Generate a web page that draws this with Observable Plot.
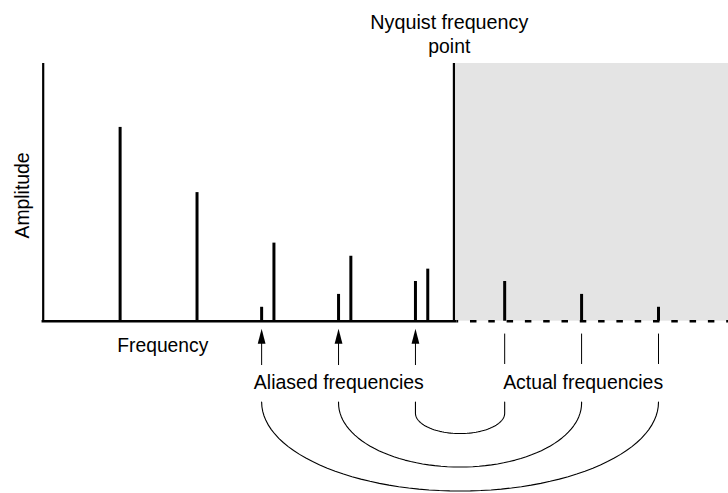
<!DOCTYPE html>
<html><head><meta charset="utf-8">
<script src="https://cdn.jsdelivr.net/npm/d3@7"></script>
<script src="https://cdn.jsdelivr.net/npm/@observablehq/plot@0.6"></script>
<style>html,body{margin:0;padding:0;background:#fff;} #chart svg{display:block;}</style>
</head><body><div id="chart"></div>
<script>
// ---- data (frequency in harmonic units, amplitude in % of axis height) ----
const harmonicFreqs = [1, 2, 3, 4, 5, 6, 7, 8];
const harmonicAmps  = [75.2, 49.9, 30.3, 25.2, 20.2, 15.4, 10.4, 5.4];
const aliasedFreqs  = [2.84, 3.84, 4.84];
const aliasedAmps   = [5.4, 10.4, 15.4];
const actualFreqs   = [8, 7, 6];          // paired with aliasedFreqs
const nyquistFreq   = 5.34;
const freqMax       = 8.91;
const ampMax        = 100;
const axisTitles    = ["Amplitude", "Frequency"];
const nyquistLabel  = ["Nyquist frequency", "point"];
const groupLabels   = ["Aliased frequencies", "Actual frequencies"];

const harmonics = harmonicFreqs.map((f, i) => ({f, a: harmonicAmps[i]}));
const aliased   = aliasedFreqs.map((f, i) => ({f, a: aliasedAmps[i]}));

// connector arcs between each aliased frequency and its actual frequency
const arcTop = -31.4;
const arcShape = [{drop: 0, depth: 34.5}, {drop: 0.4, depth: 24.8}, {drop: 4.3, depth: 7.9}];
const arcs = [];
aliasedFreqs.forEach((a, i) => {
  const f = actualFreqs[i], c = (a + f) / 2, hw = (f - a) / 2;
  const {drop, depth} = arcShape[i];
  const yc = arcTop - drop;
  arcs.push({id: i, x: a, y: arcTop});
  for (let k = 0; k <= 60; k++) {
    const t = Math.PI * k / 60;
    arcs.push({id: i, x: c - hw * Math.cos(t), y: yc - depth * Math.sin(t)});
  }
  arcs.push({id: i, x: f, y: arcTop});
});

const arrowHead = {draw(ctx) { ctx.moveTo(0, 0); ctx.lineTo(3.9, 15); ctx.lineTo(-3.9, 15); ctx.closePath(); }};
const font = "'Liberation Sans', Arial, Helvetica, sans-serif";
const fs = 20.5;

const chart = Plot.plot({
  width: 728, height: 493,
  marginTop: 0, marginRight: 0, marginBottom: 0, marginLeft: 0,
  x: {domain: [0, 8], range: [42.7, 658], axis: null},
  y: {domain: [0, ampMax], range: [320.7, 63], axis: null},
  style: {background: "#fff", fontFamily: font, color: "#000", overflow: "visible"},
  marks: [
    Plot.rect([0], {x1: nyquistFreq, x2: freqMax, y1: 0, y2: ampMax, fill: "#e4e4e4"}),
    Plot.ruleX([0], {x: d => d, y1: -0.3, y2: ampMax, stroke: "#000", strokeWidth: 2.2}),
    Plot.ruleX([nyquistFreq], {x: d => d, y1: 0, y2: ampMax, stroke: "#000", strokeWidth: 2.2}),
    Plot.ruleY([0], {y: d => d, x1: -0.015, x2: nyquistFreq + 0.04, stroke: "#000", strokeWidth: 2.5}),
    Plot.ruleY([0], {y: d => d, x1: nyquistFreq + 0.04, x2: freqMax, stroke: "#000", strokeWidth: 2.5,
                     strokeDasharray: "6.5,11.8", strokeDashoffset: 4.8}),
    Plot.ruleX(harmonics, {x: "f", y1: 0, y2: "a", stroke: "#000", strokeWidth: 3}),
    Plot.ruleX(aliased, {x: "f", y1: 0, y2: "a", stroke: "#000", strokeWidth: 3}),
    // arrows from the aliased frequencies label up to the axis
    Plot.ruleX(aliasedFreqs, {x: d => d, y1: -17.2, y2: -8.6, stroke: "#000", strokeWidth: 1}),
    Plot.dot(aliasedFreqs, {x: d => d, y: () => -2.95, symbol: arrowHead, fill: "#000", stroke: "none"}),
    // ticks from actual frequencies label up toward the axis
    Plot.ruleX(actualFreqs, {x: d => d, y1: -16.8, y2: -5.0, stroke: "#000", strokeWidth: 1}),
    Plot.line(arcs, {x: "x", y: "y", z: "id", stroke: "#000", strokeWidth: 1.1, curve: "linear"}),
    // text
    Plot.text([axisTitles[0]], {x: () => -0.272, y: () => 48.8, text: d => d, rotate: -90, fontSize: fs, fill: "#000"}),
    Plot.text([axisTitles[1]], {x: () => 1.555, y: () => -9.24, text: d => d, fontSize: fs, fill: "#000"}),
    Plot.text([nyquistLabel[0]], {x: () => 5.28, y: () => 115.8, text: d => d, fontSize: fs, fill: "#000"}),
    Plot.text([nyquistLabel[1]], {x: () => 5.28, y: () => 106.5, text: d => d, fontSize: fs, fill: "#000"}),
    Plot.text([groupLabels[0]], {x: () => 3.844, y: () => -23.7, text: d => d, fontSize: fs, fill: "#000"}),
    Plot.text([groupLabels[1]], {x: () => 7.02, y: () => -23.7, text: d => d, fontSize: fs, fill: "#000"})
  ]
});
// narrow the lettering to the reference's condensed proportions
const textWidths = {"Amplitude": 86, "Frequency": 91, "Nyquist frequency": 158, "point": 42,
                    "Aliased frequencies": 170, "Actual frequencies": 160};
chart.querySelectorAll("text").forEach(t => {
  const w = textWidths[t.textContent];
  if (w) { t.setAttribute("textLength", w); t.setAttribute("lengthAdjust", "spacingAndGlyphs"); }
});
document.getElementById("chart").append(chart);
</script>
</body></html>
